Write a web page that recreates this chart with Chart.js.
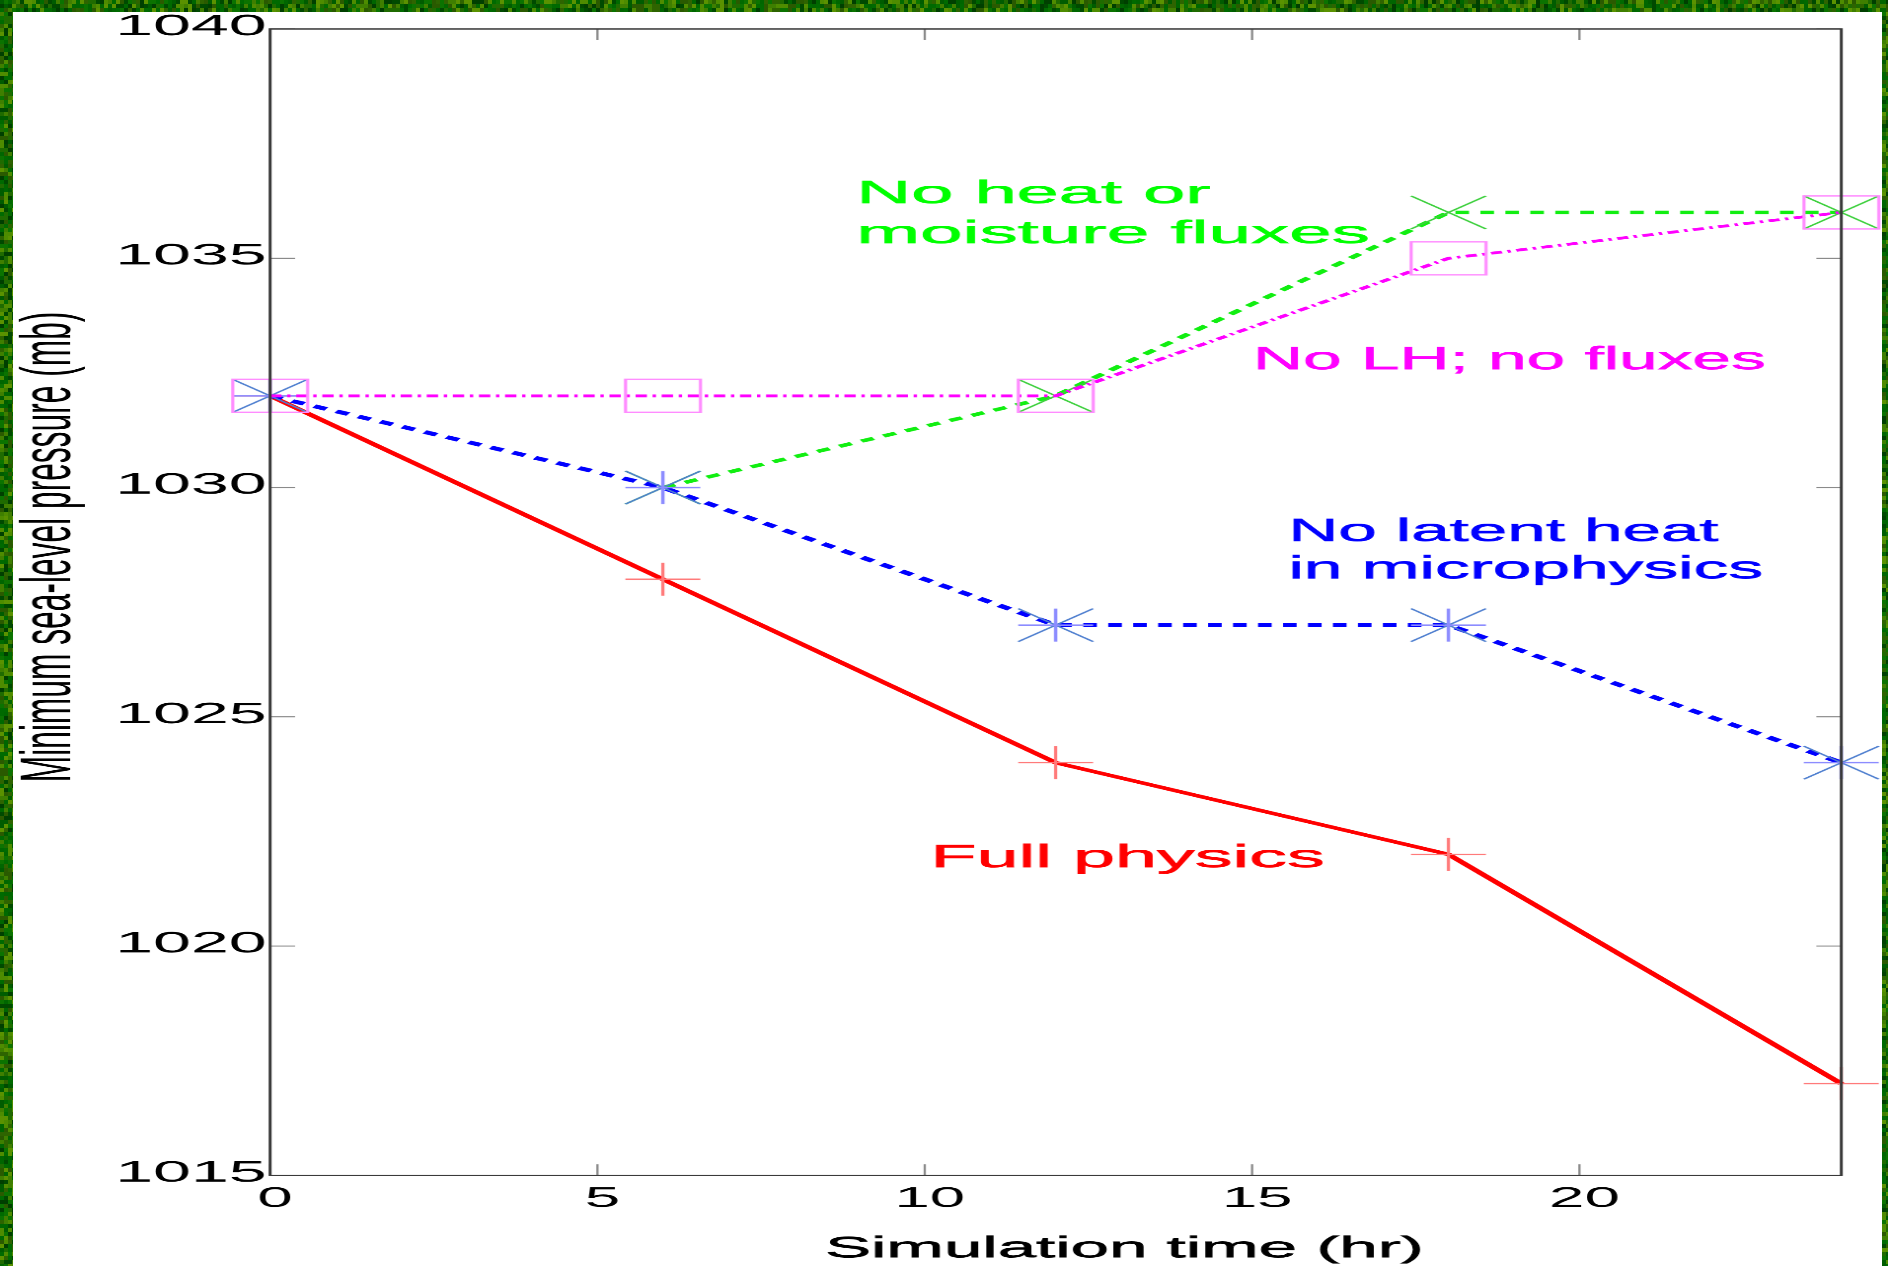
<!DOCTYPE html>
<html>
<head>
<meta charset="utf-8">
<script src="https://cdn.jsdelivr.net/npm/chart.js@4/dist/chart.umd.min.js"></script>
<style>
  html, body { margin: 0; padding: 0; background: #fff; overflow: hidden; }
  #frame { position: absolute; left: 0; top: 0; width: 1888px; height: 1266px; }
  #plot { position: absolute; left: 0; top: 0; width: 832px; height: 1266px;
          transform: scaleX(2.269231); transform-origin: 0 0; }
</style>
</head>
<body>
<canvas id="frame" width="1888" height="1266"></canvas>
<div id="plot"><canvas id="chart" width="832" height="1266"></canvas></div>
<script>
// ---- data ----
const hours         = [0, 6, 12, 18, 24];
const fullPhysics   = [1032, 1028, 1024, 1022, 1017];
const noLatentHeat  = [1032, 1030, 1027, 1027, 1024];
const noFluxes      = [null, 1030, 1032, 1036, 1036];
const noLHnoFluxes  = [1032, 1032, 1032, 1035, 1036];

const xTicks = [0, 5, 10, 15, 20];
const yTicks = [1015, 1020, 1025, 1030, 1035, 1040];

const xTitle = 'Simulation time (hr)';
const yTitle = 'Minimum sea-level pressure (mb)';
const noteLines = ['No heat or', 'moisture fluxes', 'No LH; no fluxes',
                   'No latent heat', 'in microphysics', 'Full physics'];

// ---- layout (page px; the plot canvas is stretched horizontally by S) ----
const S = 1888 / 832;
const PAGE = { axisLeft: 270, axisRight: 1840.7, axisTop: 29, axisBottom: 1175 };

// annotation placement: [data x of ink left, data y of baseline, ink width in page px, colour]
const notePlacement = [
  [9.03, 1036.20, 350, '#00ff00'],
  [9.03, 1035.33, 506, '#00ff00'],
  [15.08, 1032.58, 506, '#ff00ff'],
  [15.62, 1028.83, 426, '#0000ff'],
  [15.62, 1028.02, 468, '#0000ff'],
  [10.16, 1021.72, 387, '#ff0000']
];

// ---- green frame texture ----
(function drawFrame() {
  const c = document.getElementById('frame');
  const g = c.getContext('2d');
  g.fillStyle = '#ffffff';
  g.fillRect(0, 0, 1888, 1266);
  const shades = ['#005c00', '#006600', '#1f6b00', '#3f7f00', '#4e8c00',
                  '#004a00', '#0b7300', '#2e6400', '#5a9200', '#003f00', '#006a00', '#2a5a00'];
  function h(i, j) {
    let v = (i * 374761393 + j * 668265263) | 0;
    v = Math.imul(v ^ (v >>> 13), 1274126177);
    v ^= v >>> 16;
    return (v >>> 0) % shades.length;
  }
  function strip(x0, y0, x1, y1) {
    for (let y = y0; y < y1; y += 4) {
      for (let x = x0; x < x1; x += 4) {
        g.fillStyle = shades[h(x >> 2, y >> 2)];
        g.fillRect(x, y, Math.min(4, x1 - x), Math.min(4, y1 - y));
      }
    }
  }
  strip(0, 0, 1888, 12);
  strip(0, 0, 13, 1266);
  strip(1882, 0, 1888, 1266);
})();

// ---- marker glyphs (drawn at high resolution, shown at 36 px) ----
const MK = 36, MR = 16.5, HI = 6;
function makeMarker(paint) {
  const c = document.createElement('canvas');
  c.width = c.height = MK * HI;
  const g = c.getContext('2d');
  g.scale(HI, HI);
  g.translate(MK / 2, MK / 2);
  g.lineCap = 'butt';
  paint(g);
  const img = new Image();
  img.src = c.toDataURL();
  img.width = MK;
  img.height = MK;
  return img;
}
function seg(g, x0, y0, x1, y1) { g.beginPath(); g.moveTo(x0, y0); g.lineTo(x1, y1); g.stroke(); }

const plusMarker = makeMarker(g => {
  g.strokeStyle = '#ff7a7a'; g.lineWidth = 1.4;
  seg(g, -MR, 0, MR, 0); seg(g, 0, -MR, 0, MR);
});
const starMarker = makeMarker(g => {
  g.strokeStyle = '#4f7fcf'; g.lineWidth = 1.2;
  seg(g, -MR, -MR, MR, MR); seg(g, -MR, MR, MR, -MR);
  g.strokeStyle = '#8c8cff'; g.lineWidth = 1.5;
  seg(g, -MR, 0, MR, 0); seg(g, 0, -MR, 0, MR);
});
const xMarker = makeMarker(g => {
  g.strokeStyle = '#3ccf3c'; g.lineWidth = 1.2;
  seg(g, -MR, -MR, MR, MR); seg(g, -MR, MR, MR, -MR);
});
const squareMarker = makeMarker(g => {
  g.strokeStyle = '#ff8cff'; g.lineWidth = 1.4;
  g.strokeRect(-MR, -MR, 2 * MR, 2 * MR);
});

const pts = ys => hours.map((x, i) => ({ x: x, y: ys[i] }));

// ---- axes frame, inward ticks, titles and annotations ----
const FONT = '"Liberation Sans", Arial, Helvetica, sans-serif';
function inkText(ctx, str, x, y, size, inkWidth, color) {
  ctx.save();
  ctx.font = size + 'px ' + FONT;
  const m = ctx.measureText(str);
  const ink = m.actualBoundingBoxLeft + m.actualBoundingBoxRight;
  ctx.translate(x, y);
  ctx.scale(inkWidth / ink, 1);
  ctx.fillStyle = color;
  ctx.strokeStyle = color;
  ctx.lineWidth = 0.5;
  ctx.textAlign = 'left';
  ctx.textBaseline = 'alphabetic';
  ctx.fillText(str, m.actualBoundingBoxLeft, 0);
  ctx.strokeText(str, m.actualBoundingBoxLeft, 0);
  ctx.restore();
}

const axesDecor = {
  id: 'axesDecor',
  afterDatasetsDraw(chart) {
    const ctx = chart.ctx;
    const a = chart.chartArea;
    const xs = chart.scales.x, ys = chart.scales.y;
    const TL = 11;
    ctx.save();
    ctx.strokeStyle = '#8a8a8a';
    ctx.lineWidth = 1;
    yTicks.forEach(v => {
      const p = ys.getPixelForValue(v);
      seg(ctx, a.left, p, a.left + TL, p);
      seg(ctx, a.right - TL, p, a.right, p);
    });
    xTicks.forEach(v => {
      const p = xs.getPixelForValue(v);
      seg(ctx, p, a.top, p, a.top + TL);
      seg(ctx, p, a.bottom - TL, p, a.bottom);
    });
    ctx.strokeStyle = '#3a3a3a';
    ctx.lineWidth = 1.3;
    ctx.strokeRect(a.left, a.top, a.right - a.left, a.bottom - a.top);
    ctx.restore();
  },
  afterDraw(chart) {
    const ctx = chart.ctx;
    const xs = chart.scales.x, ys = chart.scales.y;
    // annotations
    noteLines.forEach((t, i) => {
      const [dx, dy, w, col] = notePlacement[i];
      inkText(ctx, t, xs.getPixelForValue(dx), ys.getPixelForValue(dy), 32, w / S, col);
    });
    // x-axis title
    inkText(ctx, xTitle, 827 / S, 1257, 30, 594 / S, '#000');
    // y-axis title (rotated)
    ctx.save();
    ctx.font = '31.5px ' + FONT;
    const m = ctx.measureText(yTitle);
    const ink = m.actualBoundingBoxLeft + m.actualBoundingBoxRight;
    ctx.translate(70 / S, 546.5);
    ctx.rotate(-Math.PI / 2);
    ctx.scale(467 / ink, 1);
    ctx.fillStyle = '#000';
    ctx.textBaseline = 'alphabetic';
    ctx.fillText(yTitle, -ink / 2 + m.actualBoundingBoxLeft, 0);
    ctx.restore();
  }
};

function build() {
  new Chart(document.getElementById('chart'), {
    type: 'line',
    data: {
      datasets: [
        { label: 'No LH; no fluxes', data: pts(noLHnoFluxes), borderColor: '#ff00ff',
          borderWidth: 2.8, borderDash: [5, 2.5, 1.5, 2.5], pointStyle: squareMarker, order: 1 },
        { label: 'No latent heat in microphysics', data: pts(noLatentHeat), borderColor: '#0000ff',
          borderWidth: 3.8, borderDash: [6, 5], pointStyle: starMarker, order: 2 },
        { label: 'No heat or moisture fluxes', data: pts(noFluxes), borderColor: '#11ee11',
          borderWidth: 3.4, borderDash: [6, 5], pointStyle: xMarker, order: 3 },
        { label: 'Full physics', data: pts(fullPhysics), borderColor: '#ff0000',
          borderWidth: 3.4, pointStyle: plusMarker, order: 4 }
      ]
    },
    options: {
      responsive: false,
      devicePixelRatio: 2.3,
      animation: false,
      events: [],
      layout: { autoPadding: false,
                padding: { top: PAGE.axisTop, right: 832 - PAGE.axisRight / S, left: 0, bottom: 0 } },
      elements: {
        line: { tension: 0, fill: false, borderCapStyle: 'butt', borderJoinStyle: 'miter' },
        point: { radius: 18, hoverRadius: 18, borderWidth: 0 }
      },
      datasets: { line: { clip: false, spanGaps: false } },
      plugins: { legend: { display: false }, tooltip: { enabled: false }, title: { display: false } },
      scales: {
        x: {
          type: 'linear', min: 0, max: 24,
          afterBuildTicks: s => { s.ticks = xTicks.map(v => ({ value: v })); },
          afterFit: s => { s.height = 1266 - PAGE.axisBottom; },
          grid: { display: false, drawTicks: false },
          border: { display: false },
          ticks: { color: '#000', font: { family: FONT, size: 28 }, padding: 7, labelOffset: 2.2,
                   maxRotation: 0, autoSkip: false, callback: v => String(v) }
        },
        y: {
          type: 'linear', min: 1015, max: 1040,
          afterBuildTicks: s => { s.ticks = yTicks.map(v => ({ value: v })); },
          afterFit: s => { s.width = PAGE.axisLeft / S; },
          grid: { display: false, drawTicks: false },
          border: { display: false },
          ticks: { color: '#000', font: { family: FONT, size: 30 }, padding: 1.5, labelOffset: -2,
                   autoSkip: false, callback: v => String(v) }
        }
      }
    },
    plugins: [axesDecor]
  });
}

Promise.all([plusMarker, starMarker, xMarker, squareMarker].map(i => i.decode()))
  .then(build, build);
</script>
</body>
</html>
